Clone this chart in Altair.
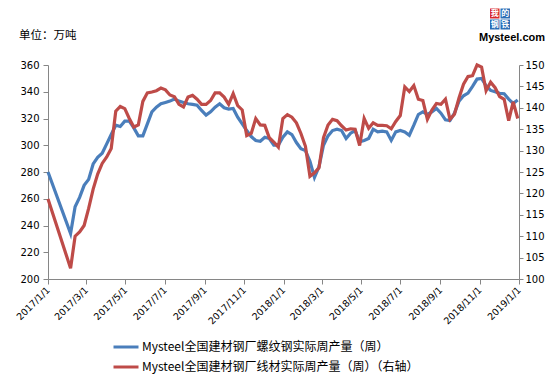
import altair as alt
import pandas as pd

# ---------------- data ----------------
S1 = "Mysteel全国建材钢厂螺纹钢实际周产量（周）"
S2 = "Mysteel全国建材钢厂线材实际周产量（周）（右轴）"
BLUE = "#4A7EBB"
RED = "#BE4B48"
CJK = "Noto Sans CJK SC"

# week numbers since 2017-01-01 (weeks 1-4 missing: Spring Festival gap)
week_index = [0] + list(range(5, 105))

rebar = [280,
         234, 254, 261, 270, 274.5, 286, 291, 294, 301, 308,
         315, 314, 318, 318, 313, 307, 307, 316, 325, 328.5,
         331, 332, 333, 334.5, 333, 332, 331, 330.5, 330, 326,
         322.5, 325, 328.5, 331, 328, 327, 327.5, 321, 316, 311,
         306.5, 303.5, 303, 306, 305, 300, 300, 306, 310, 308,
         302, 297.5, 296, 288, 276, 284, 300, 307, 311, 312,
         311, 305, 309, 311, 302.5, 303.5, 305, 312, 310, 310.5,
         310, 303.6, 310, 311, 310, 307.5, 315, 323, 325, 323,
         325, 327.5, 324, 319, 318.5, 324, 333, 337, 339, 344,
         349.5, 350, 344.5, 341, 340, 338.8, 338.5, 334.5, 331.3, 333.8]

wire = [118.7,
        102.5, 110, 111, 112.5, 116.5, 121, 124.5, 127, 128.5, 130.5,
        139.2, 140.3, 139.8, 137.5, 135.5, 136, 141.5, 143.5, 143.7, 144,
        144.6, 144.2, 143, 142.6, 140.8, 140.2, 142.5, 142.9, 142, 140.8,
        140.8, 141.7, 143.5, 143.5, 142.5, 140.8, 143.3, 140.5, 139.5, 133.5,
        134, 137.5, 136, 135.9, 133, 132, 130.8, 137.5, 138.4, 137.8,
        136.5, 134, 131, 124, 124.8, 126, 133, 136, 137.3, 137,
        135.8, 134.8, 135.1, 135, 131.2, 137.5, 135.2, 136.5, 135.9, 135.9,
        135.8, 135.1, 136.8, 138.2, 144.9, 143.8, 145.2, 142, 141.7, 137.3,
        139.5, 141, 140.8, 142, 137.3, 138.5, 142.3, 145.5, 147.3, 147.5,
        150, 149.5, 144, 146, 144.7, 142.6, 142, 137, 141.4, 137.5]

left_ticks = [200, 220, 240, 260, 280, 300, 320, 340, 360]
right_ticks = [100, 105, 110, 115, 120, 125, 130, 135, 140, 145, 150]
x_tick_dates = ["2017-01-01", "2017-03-01", "2017-05-01", "2017-07-01", "2017-09-01",
                "2017-11-01", "2018-01-01", "2018-03-01", "2018-05-01", "2018-07-01",
                "2018-09-01", "2018-11-01", "2019-01-01"]

start = pd.Timestamp("2017-01-01")
dates = [(start + pd.Timedelta(days=7 * k)).strftime("%Y-%m-%d") for k in week_index]

rows = []
for d, v in zip(dates, rebar):
    rows.append({"date": d, "value": v, "series": S1})
for d, v in zip(dates, wire):
    rows.append({"date": d, "value": v, "series": S2})
df = pd.DataFrame(rows)


def ms(s):
    return int(pd.Timestamp(s, tz="UTC").timestamp() * 1000)


x_values = [ms(s) for s in x_tick_dates]
x_domain = [ms("2017-01-01"), ms("2019-01-01")]

# ---------------- chart ----------------
x_enc = alt.X("date:T", title=None,
              scale=alt.Scale(type="utc", domain=x_domain),
              axis=alt.Axis(values=x_values, format="%Y/%-m/%-d", labelAngle=315,
                            labelAlign="right", labelBaseline="middle", labelPadding=4,
                            labelFont="DejaVu Sans", labelFontSize=9.5, tickSize=5,
                            labelOverlap=False, labelFlush=False))
color_enc = alt.Color("series:N",
                      scale=alt.Scale(domain=[S1, S2], range=[BLUE, RED]),
                      legend=alt.Legend(title=None, orient="none", legendX=64, legendY=268,
                                        direction="vertical", symbolType="stroke",
                                        symbolSize=625, symbolStrokeWidth=3,
                                        labelFont=CJK, labelFontSize=12, labelColor="#000",
                                        labelOffset=2, rowPadding=0, padding=0,
                                        labelLimit=400))

base = alt.Chart(df).encode(x=x_enc, color=color_enc)

blue_line = base.transform_filter(alt.datum.series == S1).mark_line(strokeWidth=3.2).encode(
    y=alt.Y("value:Q", title=None,
            scale=alt.Scale(domain=[200, 360], nice=False, zero=False),
            axis=alt.Axis(orient="left", values=left_ticks, tickSize=5, labelPadding=4,
                          labelFont="DejaVu Sans", labelFontSize=10))
)
red_line = base.transform_filter(alt.datum.series == S2).mark_line(strokeWidth=3.2).encode(
    y=alt.Y("value:Q", title=None,
            scale=alt.Scale(domain=[100, 150], nice=False, zero=False),
            axis=alt.Axis(orient="right", values=right_ticks, tickSize=4, labelPadding=2,
                          labelFont="DejaVu Sans", labelFontSize=10))
)

one = alt.Data(values=[{}])
OX, OY = 48, 65  # plot origin in page coordinates


def rect(x1, x2, y1, y2, fill):
    return alt.Chart(one).mark_rect(color=fill).encode(
        x=alt.value(x1 - OX), x2=alt.value(x2 - OX),
        y=alt.value(y1 - OY), y2=alt.value(y2 - OY))


def txt(s, x, y, size, align="center", baseline="middle", weight="normal", color="#000", font=CJK):
    return alt.Chart(one).mark_text(text=s, fontSize=size, align=align, baseline=baseline,
                                    fontWeight=weight, color=color, font=font).encode(
        x=alt.value(x - OX), y=alt.value(y - OY))


unit_label = txt("单位：万吨", 19, 41, 11.5, align="left", baseline="bottom")

logo = [
    rect(490, 499.5, 8.5, 18.5, "#D7282F"),
    rect(500.5, 510, 8.5, 18.5, "#2A6DB5"),
    rect(490, 499.5, 19.5, 29.5, "#2A6DB5"),
    rect(500.5, 510, 19.5, 29.5, "#2A6DB5"),
    txt("我", 494.75, 13.5, 8, weight="bold", color="white"),
    txt("的", 505.25, 13.5, 8, weight="bold", color="white"),
    txt("钢", 494.75, 24.5, 8, weight="bold", color="white"),
    txt("铁", 505.25, 24.5, 8, weight="bold", color="white"),
    txt("Mysteel.com", 545, 42.5, 11, align="right", baseline="bottom", weight="bold",
        font="Liberation Sans"),
]

chart = alt.layer(blue_line, red_line, unit_label, *logo).resolve_scale(
    y="independent"
).properties(
    width=471, height=214,
    padding={"left": 40, "top": 57, "right": 27, "bottom": 95},
    autosize=alt.AutoSizeParams(type="none"),
).configure_view(stroke=None).configure_axis(
    domainColor="#868686", tickColor="#868686", grid=False, labelColor="#000"
)

chart.save("out.html", embed_options={"renderer": "svg", "actions": False})
